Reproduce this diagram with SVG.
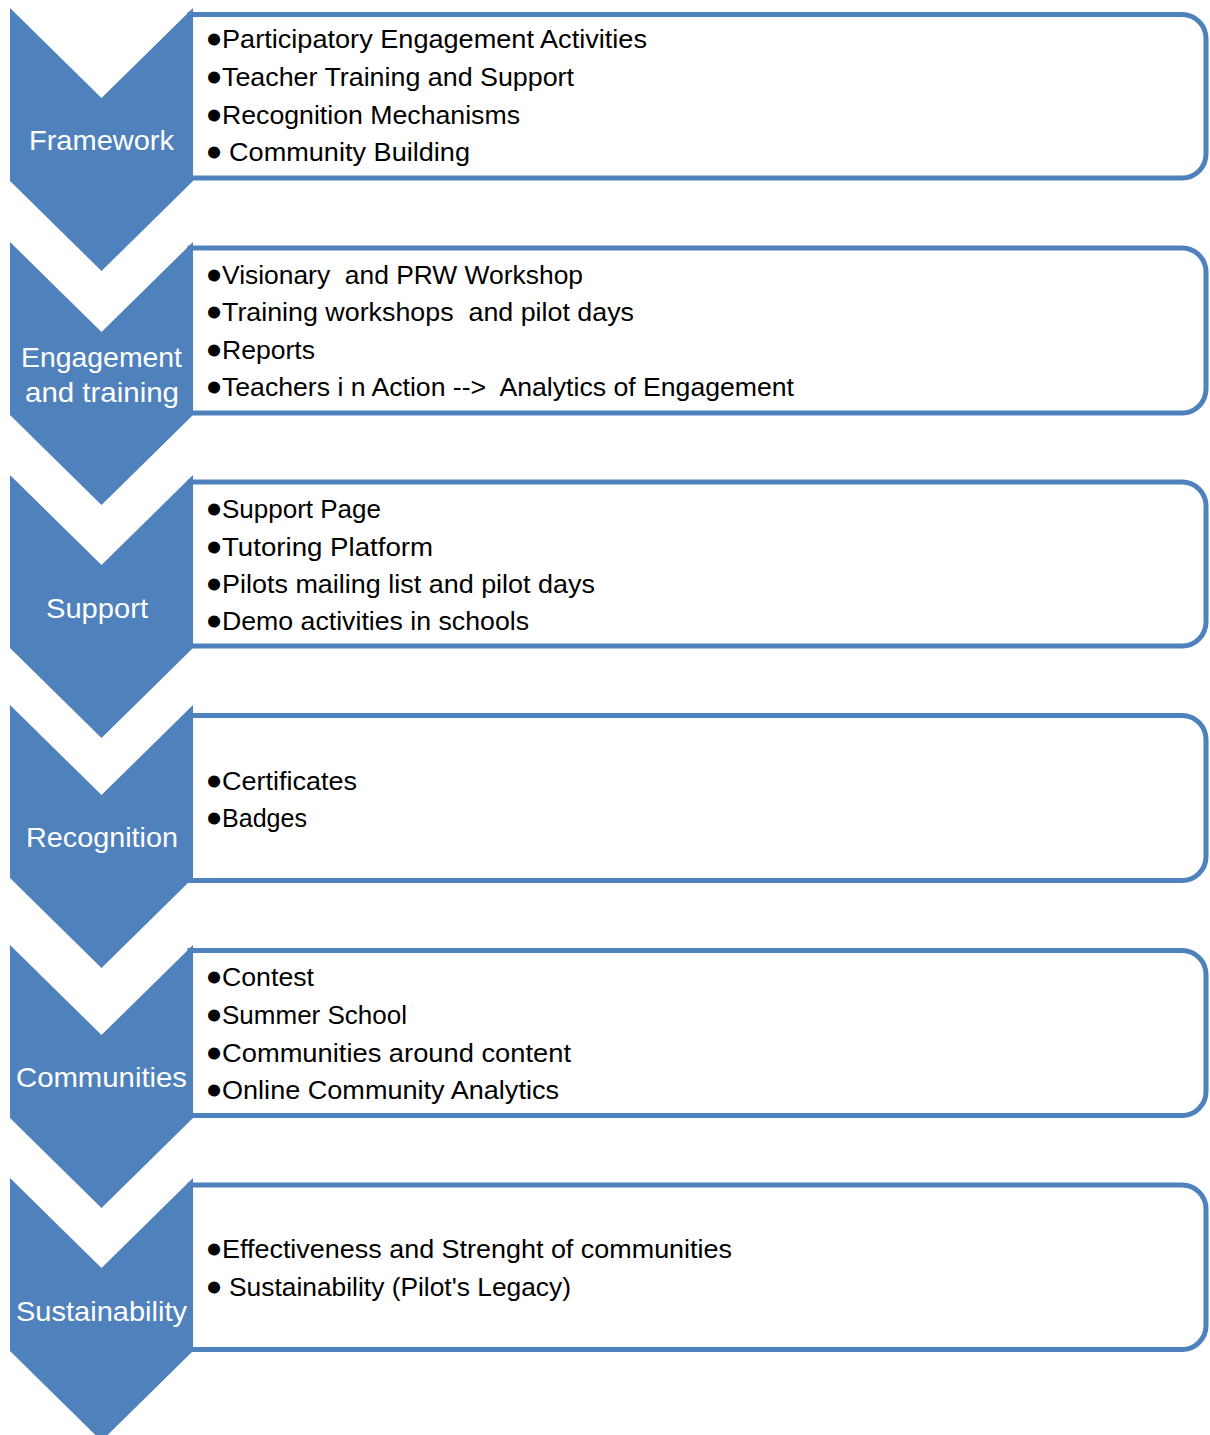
<svg xmlns="http://www.w3.org/2000/svg" width="1210" height="1435" viewBox="0 0 1210 1435">
<style>
.chev{fill:#4F81BD;stroke:none}
.box{fill:#FFFFFF;stroke:#4F81BD;stroke-width:5}
.lbl{font-family:"Liberation Sans",Arial,sans-serif;font-size:28px;fill:#FFFFFF}
.item{font-family:"Liberation Sans",Arial,sans-serif;font-size:26px;fill:#000000}
.b{stroke:#000000;stroke-width:5px;stroke-linejoin:round}
</style>
<rect x="0" y="0" width="1210" height="1435" fill="#FFFFFF"/>
<g id="connectors"></g>

<g id="framework">
<path class="box" d="M190,14.5 H1182 A24,24 0 0 1 1206,38.5 V154 A24,24 0 0 1 1182,178 H190 Z"/>
<path class="chev" d="M10,8 L101.5,98 L193,8 V181 L101.5,271 L10,181 Z"/>
<text class="lbl" x="29" y="150" textLength="145" lengthAdjust="spacingAndGlyphs">Framework</text>
<text class="item" y="48"><tspan class="b" x="209.5">•</tspan><tspan x="222" textLength="425" lengthAdjust="spacingAndGlyphs">Participatory Engagement Activities</tspan></text>
<text class="item" y="86"><tspan class="b" x="209.5">•</tspan><tspan x="222" textLength="352" lengthAdjust="spacingAndGlyphs">Teacher Training and Support</tspan></text>
<text class="item" y="124"><tspan class="b" x="209.5">•</tspan><tspan x="222" textLength="298" lengthAdjust="spacingAndGlyphs">Recognition Mechanisms</tspan></text>
<text class="item" y="161"><tspan class="b" x="209.5">•</tspan><tspan x="229" textLength="241" lengthAdjust="spacingAndGlyphs">Community Building</tspan></text>
</g>

<g id="engagement">
<path class="box" d="M190,248 H1182 A24,24 0 0 1 1206,272 V389 A24,24 0 0 1 1182,413 H190 Z"/>
<path class="chev" d="M10,242 L101.5,332 L193,242 V415 L101.5,505 L10,415 Z"/>
<text class="lbl" x="21" y="367" textLength="161" lengthAdjust="spacingAndGlyphs">Engagement</text>
<text class="lbl" x="25" y="402" textLength="154" lengthAdjust="spacingAndGlyphs">and training</text>
<text class="item" y="284" xml:space="preserve"><tspan class="b" x="209.5">•</tspan><tspan x="222" textLength="361" lengthAdjust="spacingAndGlyphs">Visionary  and PRW Workshop</tspan></text>
<text class="item" y="321" xml:space="preserve"><tspan class="b" x="209.5">•</tspan><tspan x="222" textLength="412" lengthAdjust="spacingAndGlyphs">Training workshops  and pilot days</tspan></text>
<text class="item" y="359"><tspan class="b" x="209.5">•</tspan><tspan x="222" textLength="93" lengthAdjust="spacingAndGlyphs">Reports</tspan></text>
<text class="item" y="396" xml:space="preserve"><tspan class="b" x="209.5">•</tspan><tspan x="222" textLength="572" lengthAdjust="spacingAndGlyphs">Teachers i n Action --&gt;  Analytics of Engagement</tspan></text>
</g>

<g id="support">
<path class="box" d="M190,482 H1182 A24,24 0 0 1 1206,506 V622 A24,24 0 0 1 1182,646 H190 Z"/>
<path class="chev" d="M10,475 L101.5,565 L193,475 V648 L101.5,738 L10,648 Z"/>
<text class="lbl" x="46" y="618" textLength="102" lengthAdjust="spacingAndGlyphs">Support</text>
<text class="item" y="518"><tspan class="b" x="209.5">•</tspan><tspan x="222" textLength="159" lengthAdjust="spacingAndGlyphs">Support Page</tspan></text>
<text class="item" y="556"><tspan class="b" x="209.5">•</tspan><tspan x="222" textLength="211" lengthAdjust="spacingAndGlyphs">Tutoring Platform</tspan></text>
<text class="item" y="593"><tspan class="b" x="209.5">•</tspan><tspan x="222" textLength="373" lengthAdjust="spacingAndGlyphs">Pilots mailing list and pilot days</tspan></text>
<text class="item" y="630"><tspan class="b" x="209.5">•</tspan><tspan x="222" textLength="307" lengthAdjust="spacingAndGlyphs">Demo activities in schools</tspan></text>
</g>

<g id="recognition">
<path class="box" d="M190,715.5 H1182 A24,24 0 0 1 1206,739.5 V856.5 A24,24 0 0 1 1182,880.5 H190 Z"/>
<path class="chev" d="M10,705 L101.5,795 L193,705 V878 L101.5,968 L10,878 Z"/>
<text class="lbl" x="26" y="847" textLength="152" lengthAdjust="spacingAndGlyphs">Recognition</text>
<text class="item" y="790"><tspan class="b" x="209.5">•</tspan><tspan x="222" textLength="135" lengthAdjust="spacingAndGlyphs">Certificates</tspan></text>
<text class="item" y="827"><tspan class="b" x="209.5">•</tspan><tspan x="222" textLength="85" lengthAdjust="spacingAndGlyphs">Badges</tspan></text>
</g>

<g id="communities">
<path class="box" d="M190,950.5 H1182 A24,24 0 0 1 1206,974.5 V1091.5 A24,24 0 0 1 1182,1115.5 H190 Z"/>
<path class="chev" d="M10,945 L101.5,1035 L193,945 V1118 L101.5,1208 L10,1118 Z"/>
<text class="lbl" x="16" y="1087" textLength="171" lengthAdjust="spacingAndGlyphs">Communities</text>
<text class="item" y="986"><tspan class="b" x="209.5">•</tspan><tspan x="222" textLength="92" lengthAdjust="spacingAndGlyphs">Contest</tspan></text>
<text class="item" y="1024"><tspan class="b" x="209.5">•</tspan><tspan x="222" textLength="185" lengthAdjust="spacingAndGlyphs">Summer School</tspan></text>
<text class="item" y="1062"><tspan class="b" x="209.5">•</tspan><tspan x="222" textLength="349" lengthAdjust="spacingAndGlyphs">Communities around content</tspan></text>
<text class="item" y="1099"><tspan class="b" x="209.5">•</tspan><tspan x="222" textLength="337" lengthAdjust="spacingAndGlyphs">Online Community Analytics</tspan></text>
</g>

<g id="sustainability">
<path class="box" d="M190,1185 H1182 A24,24 0 0 1 1206,1209 V1325.5 A24,24 0 0 1 1182,1349.5 H190 Z"/>
<path class="chev" d="M10,1178 L101.5,1268 L193,1178 V1351 L101.5,1441 L10,1351 Z"/>
<text class="lbl" x="16" y="1321" textLength="171" lengthAdjust="spacingAndGlyphs">Sustainability</text>
<text class="item" y="1258"><tspan class="b" x="209.5">•</tspan><tspan x="222" textLength="510" lengthAdjust="spacingAndGlyphs">Effectiveness and Strenght of communities</tspan></text>
<text class="item" y="1296"><tspan class="b" x="209.5">•</tspan><tspan x="229" textLength="342" lengthAdjust="spacingAndGlyphs">Sustainability (Pilot's Legacy)</tspan></text>
</g>
</svg>
